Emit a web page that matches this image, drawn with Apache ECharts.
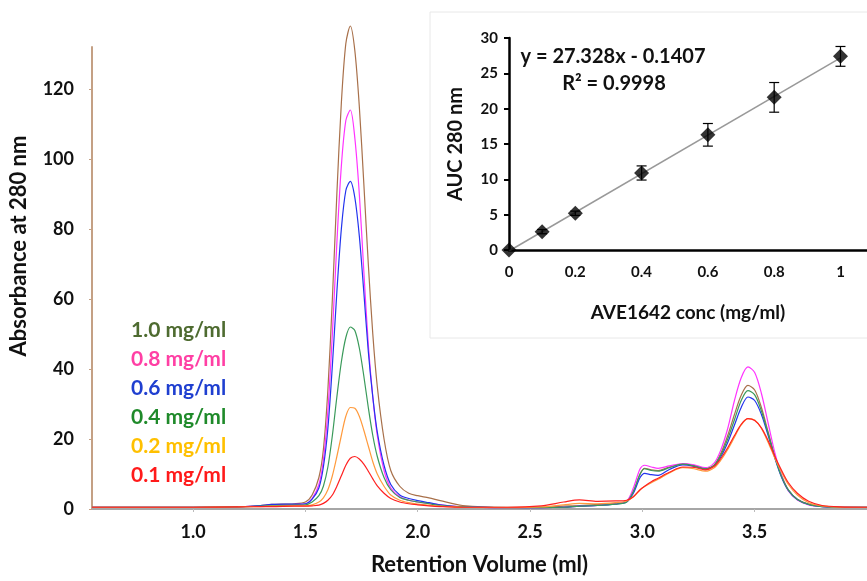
<!DOCTYPE html>
<html>
<head>
<meta charset="utf-8">
<script src="https://cdn.jsdelivr.net/npm/echarts@6/dist/echarts.min.js"></script>
<style>
  html, body { margin: 0; padding: 0; background: #fff; }
  #chart { width: 867px; height: 581px; }
</style>
</head>
<body>
<div id="chart"></div>
<script>
// retention volume (ml), shared by all traces
const retention = [
  0.55, 0.8, 1.0, 1.2, 1.3, 1.35, 1.45, 1.5, 1.53, 1.56,
  1.58, 1.60, 1.62, 1.64, 1.66, 1.68, 1.70, 1.72, 1.74, 1.76,
  1.78, 1.80, 1.82, 1.85, 1.88, 1.92, 1.96, 2.00, 2.05, 2.10,
  2.20, 2.40, 2.55, 2.65, 2.72, 2.80, 2.88, 2.93, 2.96, 2.99,
  3.01, 3.04, 3.07, 3.12, 3.18, 3.23, 3.28, 3.32, 3.35, 3.38,
  3.41, 3.44, 3.47, 3.50, 3.53, 3.56, 3.59, 3.62, 3.65, 3.69,
  3.74, 3.80, 3.88, 4.0
]

// absorbance at 280 nm per concentration
const abs10 = [
  0.5, 0.5, 0.5, 0.6, 1.0, 1.3, 1.5, 2.0, 4, 9,
  17, 34, 60, 90, 116, 133, 138, 131, 115, 93,
  70, 50, 35, 20, 11, 6.5, 4.5, 3.8, 3.2, 2.4,
  1.0, 0.5, 0.5, 0.8, 1.0, 1.3, 1.6, 2.2, 5, 10,
  11.6, 11.2, 11.0, 12.0, 12.8, 12.4, 11.6, 12.6, 16, 21,
  27, 32.5, 35.3, 34, 29, 22, 15, 9.5, 5.5, 2.8,
  1.4, 0.8, 0.5, 0.5
]
const abs08 = [
  0.5, 0.5, 0.5, 0.6, 0.9, 1.1, 1.3, 1.5, 3, 7,
  14, 28, 50, 76, 98, 111, 114, 106, 90, 68,
  47, 32, 21, 11, 6, 3.5, 2.5, 2.0, 1.6, 1.2,
  0.6, 0.4, 0.4, 0.5, 0.8, 1.0, 1.5, 2.2, 6, 11.5,
  12.5, 12.0, 11.6, 12.3, 13.0, 12.6, 11.8, 13.2, 17, 23,
  31, 37.5, 40.6, 39, 33, 24.5, 16, 9.5, 5.2, 2.6,
  1.2, 0.7, 0.5, 0.5
]
const abs06 = [
  0.5, 0.5, 0.5, 0.6, 1.0, 1.3, 1.4, 1.5, 2.8, 6,
  12, 23, 41, 62, 80, 91, 93.6, 89, 78, 62,
  45, 32, 22, 12.5, 7, 4, 3, 2.4, 1.8, 1.2,
  0.6, 0.4, 0.4, 0.5, 0.8, 1.0, 1.4, 2.0, 4.5, 9,
  10.2, 9.8, 9.6, 11.3, 12.6, 12.2, 11.4, 12.4, 15, 19,
  24, 29, 32, 31, 27, 21, 14.5, 9, 5.3, 2.7,
  1.3, 0.7, 0.5, 0.5
]
const abs04 = [
  0.5, 0.5, 0.5, 0.6, 0.8, 1.0, 1.1, 1.2, 2, 3.8,
  6.5, 12, 21, 32, 42, 49, 52, 51, 46, 38,
  29, 21, 15, 9, 5.5, 3.3, 2.5, 2.0, 1.5, 1.0,
  0.6, 0.4, 0.4, 0.5, 0.8, 1.0, 1.4, 2.0, 5, 10,
  11.5, 11.0, 10.8, 11.8, 12.8, 12.3, 11.5, 12.5, 15.5, 20,
  25.5, 31, 33.8, 32.6, 28, 21.5, 14.8, 9.2, 5.4, 2.7,
  1.3, 0.7, 0.5, 0.5
]
const abs02 = [
  0.5, 0.5, 0.5, 0.6, 0.7, 0.8, 0.9, 0.9, 1.2, 2,
  3.2, 5.5, 9.5, 15, 21, 26.5, 29, 28.8, 26.5, 22.5,
  18, 13.5, 10, 6.5, 4, 2.5, 1.8, 1.4, 1.1, 0.8,
  0.5, 0.4, 0.6, 1.2, 1.6, 1.5, 1.8, 2.3, 3.5, 5.5,
  6.4, 7.5, 8.5, 10.3, 11.8, 11.5, 10.8, 11.8, 14, 17,
  20.5, 24, 25.8, 25.4, 23, 19, 14.5, 10.5, 7, 4,
  1.8, 0.9, 0.5, 0.5
]
const abs01 = [
  0.5, 0.5, 0.5, 0.6, 0.7, 0.7, 0.8, 0.8, 0.9, 1.1,
  1.6, 2.5, 4, 6.5, 9.5, 12.5, 14.5, 15, 14.3, 12.8,
  10.8, 8.6, 6.6, 4.5, 3, 2, 1.5, 1.2, 0.9, 0.7,
  0.5, 0.5, 0.9, 2.0, 2.6, 2.2, 2.3, 2.5, 3.5, 5.5,
  6.5, 7.8, 8.8, 10.5, 12.0, 11.9, 11.2, 12.2, 14.5, 17.5,
  21, 24.2, 25.8, 25.3, 23.2, 19.5, 15, 11, 7.5, 4.5,
  2.2, 1.0, 0.6, 0.5
]

const traceNames = ['1.0 mg/ml', '0.8 mg/ml', '0.6 mg/ml', '0.4 mg/ml', '0.2 mg/ml', '0.1 mg/ml']
const traceData = [abs10, abs08, abs06, abs04, abs02, abs01]
const lineColors = ['#a8704a', '#ff33ff', '#2233ee', '#3a9a5a', '#ff9a3c', '#ff2020']
const labelColors = ['#4e6b30', '#ff3fa4', '#1f3fd0', '#1f8a2a', '#ffc000', '#ff1a1a']

const xTicks = [1.0, 1.5, 2.0, 2.5, 3.0, 3.5]
const yTicks = [0, 20, 40, 60, 80, 100, 120]

// inset: calibration curve
const concX = [0, 0.1, 0.2, 0.4, 0.6, 0.8, 1.0]
const aucY = [0, 2.6, 5.2, 10.9, 16.3, 21.6, 27.4]
const aucErr = [0, 0.3, 0.3, 1.0, 1.6, 2.1, 1.4]
const trendX = [0, 1]
const trendY = [-0.14, 27.19]
const insetXTicks = [0, 0.2, 0.4, 0.6, 0.8, 1]

const FONT = 'Lato'
const bold = (size, color) => ({ fontFamily: FONT, fontWeight: 'bold', fontSize: size, color: color || '#111' })

function renderErr(params, api) {
  const x = api.value(0), y = api.value(1), e = api.value(2)
  if (!e) return null
  const hi = api.coord([x, y + e])
  const lo = api.coord([x, y - e])
  const w = 5
  const st = { stroke: '#000', lineWidth: 1.2 }
  return {
    type: 'group',
    children: [
      { type: 'line', shape: { x1: hi[0], y1: hi[1], x2: lo[0], y2: lo[1] }, style: st },
      { type: 'line', shape: { x1: hi[0] - w, y1: hi[1], x2: hi[0] + w, y2: hi[1] }, style: st },
      { type: 'line', shape: { x1: lo[0] - w, y1: lo[1], x2: lo[0] + w, y2: lo[1] }, style: st }
    ]
  }
}

const chart = echarts.init(document.getElementById('chart'), null, { renderer: 'canvas' })

const traceSeries = traceData.map((vals, i) => ({
  name: traceNames[i],
  type: 'line',
  xAxisIndex: 0,
  yAxisIndex: 0,
  smooth: 0.3,
  showSymbol: false,
  clip: false,
  lineStyle: { color: lineColors[i], width: 1.2 },
  itemStyle: { color: lineColors[i] },
  data: retention.map((x, k) => [x, vals[k]]),
  z: 3
}))

chart.setOption({
  backgroundColor: '#fff',
  animation: false,
  grid: [
    { left: 92, right: 0, top: 47, bottom: 70 },
    { left: 509, right: 0, top: 38, bottom: 331 }
  ],
  legend: {
    orient: 'vertical',
    left: 121,
    top: 315,
    icon: 'none',
    itemWidth: 0,
    itemHeight: 0,
    itemGap: 8,
    selectedMode: false,
    textStyle: bold(21),
    data: traceNames.map((n, i) => ({ name: n, textStyle: { color: labelColors[i] } }))
  },
  xAxis: [
    {
      type: 'value',
      gridIndex: 0,
      min: 0.55,
      max: 4.0,
      offset: 2,
      axisLine: { lineStyle: { color: '#a6a6a6', width: 2 } },
      axisTick: { show: true, length: 3, customValues: xTicks, lineStyle: { color: '#bbb' } },
      axisLabel: { customValues: xTicks, formatter: v => v.toFixed(1), margin: 12, ...bold(18) },
      splitLine: { show: false },
      name: 'Retention Volume (ml)',
      nameLocation: 'middle',
      nameGap: 43,
      nameTextStyle: bold(22)
    },
    {
      type: 'value',
      gridIndex: 1,
      min: 0,
      max: 1.08,
      axisLine: { lineStyle: { color: '#000', width: 2.5 } },
      axisTick: { show: false, customValues: insetXTicks },
      axisLabel: { customValues: insetXTicks, margin: 15, ...bold(15) },
      splitLine: { show: false },
      name: 'AVE1642 conc (mg/ml)',
      nameLocation: 'middle',
      nameGap: 53,
      nameTextStyle: bold(19)
    }
  ],
  yAxis: [
    {
      type: 'value',
      gridIndex: 0,
      min: 0,
      max: 132,
      axisLine: { show: true, lineStyle: { color: '#c4a084', width: 2 } },
      axisTick: { show: true, length: 3, customValues: yTicks, lineStyle: { color: '#c4a084' } },
      axisLabel: { customValues: yTicks, margin: 18, ...bold(18) },
      splitLine: { show: false }
    },
    {
      type: 'value',
      gridIndex: 1,
      min: 0,
      max: 30,
      interval: 5,
      axisLine: { show: true, lineStyle: { color: '#000', width: 2.5 } },
      axisTick: { show: true, length: 5, lineStyle: { color: '#000', width: 2 } },
      axisLabel: { margin: 11, ...bold(15) },
      splitLine: { show: false },
      name: 'AUC 280 nm',
      nameLocation: 'middle',
      nameGap: 43,
      nameTextStyle: bold(20)
    }
  ],
  graphic: [
    {
      type: 'rect',
      z: 0,
      shape: { x: 430, y: 12, width: 440, height: 326 },
      style: { fill: '#fff', stroke: '#e8e8e8', lineWidth: 1 }
    },
    {
      type: 'text',
      x: 19,
      y: 246,
      rotation: Math.PI / 2,
      style: {
        text: 'Absorbance at 280 nm',
        align: 'center',
        verticalAlign: 'middle',
        font: 'bold 22px Lato',
        fill: '#111'
      }
    },
    {
      type: 'text',
      x: 613,
      y: 57,
      z: 10,
      style: { text: 'y = 27.328x - 0.1407', align: 'center', verticalAlign: 'middle', font: 'bold 20px Lato', fill: '#111' }
    },
    {
      type: 'text',
      x: 614,
      y: 84,
      z: 10,
      style: { text: 'R² = 0.9998', align: 'center', verticalAlign: 'middle', font: 'bold 20px Lato', fill: '#111' }
    }
  ],
  series: [
    ...traceSeries,
    {
      name: 'trend',
      type: 'line',
      xAxisIndex: 1,
      yAxisIndex: 1,
      showSymbol: false,
      clip: false,
      lineStyle: { color: '#999', width: 1.5 },
      data: trendX.map((x, k) => [x, trendY[k]]),
      z: 3
    },
    {
      name: 'err',
      type: 'custom',
      xAxisIndex: 1,
      yAxisIndex: 1,
      renderItem: renderErr,
      data: concX.map((x, k) => [x, aucY[k], aucErr[k]]),
      z: 4
    },
    {
      name: 'auc',
      type: 'scatter',
      xAxisIndex: 1,
      yAxisIndex: 1,
      symbol: 'diamond',
      symbolSize: 15,
      clip: false,
      itemStyle: { color: '#000' },
      data: concX.map((x, k) => [x, aucY[k]]),
      z: 5
    }
  ]
})
</script>
</body>
</html>
